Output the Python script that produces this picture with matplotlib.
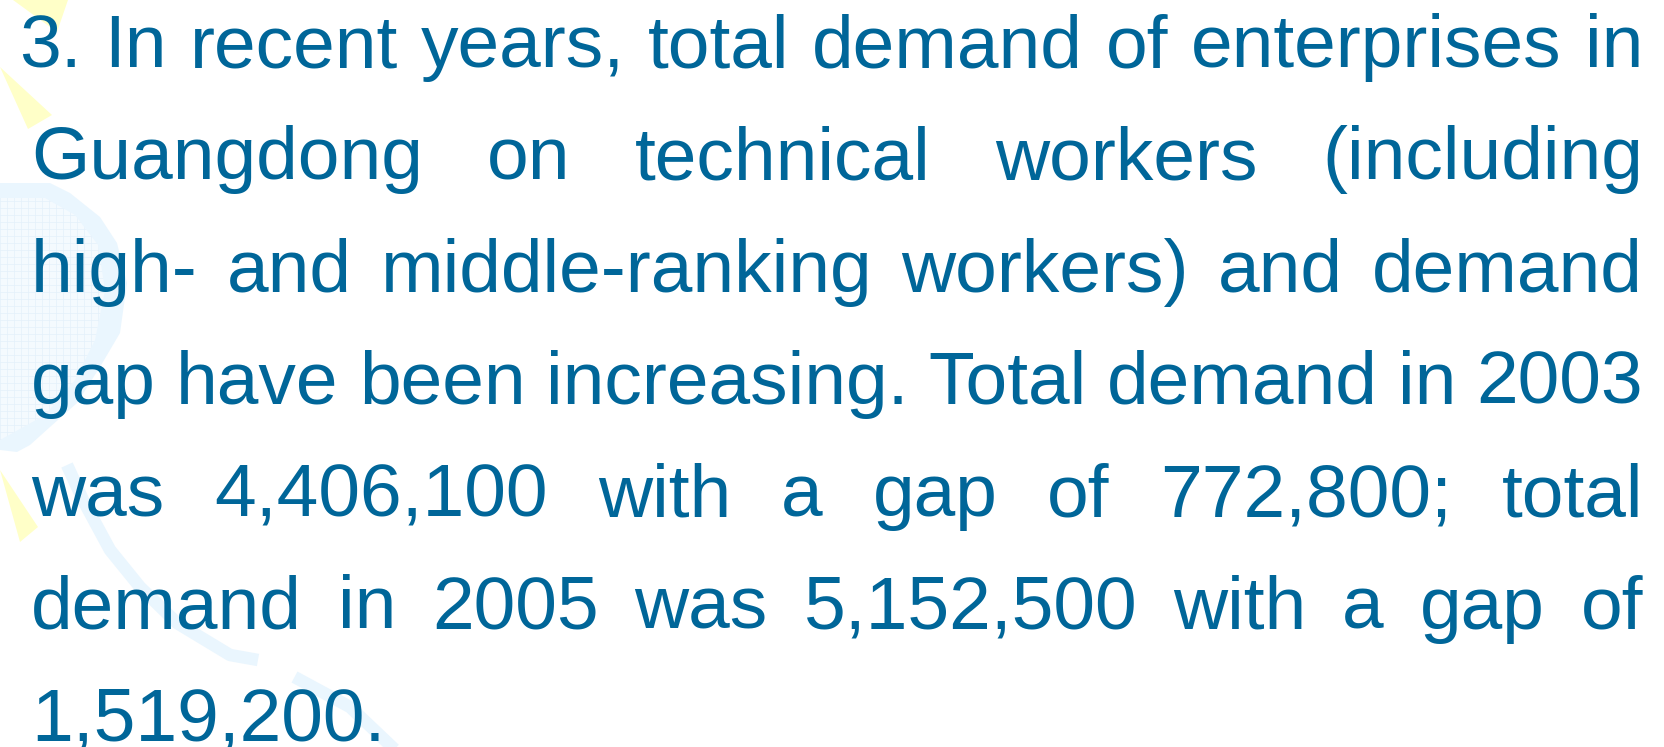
import matplotlib
matplotlib.use("Agg")
import matplotlib.pyplot as plt
from matplotlib.patches import Polygon

# Textzeilen der Folie (Blocksatz, letzte Zeile linksbündig)
lines = [
    "3. In recent years, total demand of enterprises in",
    "Guangdong on technical workers (including",
    "high- and middle-ranking workers) and demand",
    "gap have been increasing. Total demand in 2003",
    "was 4,406,100 with a gap of 772,800; total",
    "demand in 2005 was 5,152,500 with a gap of",
    "1,519,200.",
]

W, H = 1664, 747
text_color = "#006699"
fig = plt.figure(figsize=(W / 100, H / 100), dpi=100)
fig.patch.set_facecolor("white")
ax = fig.add_axes([0, 0, 1, 1])
ax.set_xlim(0, W)
ax.set_ylim(H, 0)
ax.axis("off")

# Hintergrund-Deko: hellblaue Form mit feinem Raster
blob = [(0, 183), (50, 183), (70, 193), (100, 217), (117, 243), (127, 283),
        (120, 333), (100, 367), (77, 403), (50, 427), (30, 445), (17, 452), (0, 450)]
blob_patch = Polygon(blob, closed=True, facecolor="#eaf6fe", edgecolor="none", zorder=1)
ax.add_patch(blob_patch)
inner = [(0, 198), (45, 198), (75, 215), (98, 245), (105, 290), (95, 340),
         (75, 380), (45, 415), (0, 440)]
inner_patch = Polygon(inner, closed=True, facecolor="#f4fafe", edgecolor="none", zorder=1.05)
ax.add_patch(inner_patch)
for gx in range(0, 130, 7):
    ln, = ax.plot([gx, gx], [180, 455], color="#e4f0fa", lw=0.5, zorder=1.1)
    ln.set_clip_path(inner_patch)
for gy in range(180, 455, 7):
    ln, = ax.plot([0, 130], [gy, gy], color="#e4f0fa", lw=0.5, zorder=1.1)
    ln.set_clip_path(inner_patch)

# hellblauer Bogen
arc_x = [67, 83, 110, 140, 177, 230, 258]
arc_y = [465, 500, 550, 587, 623, 655, 660]
ax.plot(arc_x, arc_y, color="#eaf6fe", lw=9, solid_capstyle="butt", zorder=1)
ax.plot([300, 350, 390], [680, 707, 745], color="#eaf6fe", lw=9, zorder=1)

# gelbe Dreiecke
yellow = "#ffffc8"
for tri in [[(13, 0), (68, 0), (57, 32)],
            [(0, 67), (52, 115), (28, 129)],
            [(0, 470), (38, 527), (20, 542)]]:
    ax.add_patch(Polygon(tri, closed=True, facecolor=yellow, edgecolor="none", zorder=1))

# Schrift: Zeile 1 mit normalen Leerzeichen, Rest im Blocksatz
left_first, left_rest, right = 19, 31, 1643
baseline0, spacing = 67, 112.3
fs = 54
renderer = fig.canvas.get_renderer()


def width_of(s, size):
    t = ax.text(0, 0, s, fontsize=size, family="Liberation Sans")
    w = t.get_window_extent(renderer).width
    t.remove()
    return w


natural = width_of(lines[0], fs)
if natural > right - left_first:
    fs = fs * (right - left_first) / natural

for i, line in enumerate(lines):
    words = line.split(" ")
    x0 = left_first if i == 0 else left_rest
    y = baseline0 + i * spacing
    widths = [width_of(w, fs) for w in words]
    if i < len(lines) - 1 and len(words) > 1:
        gap = (right - x0 - sum(widths)) / (len(words) - 1)
    else:
        gap = width_of("a b", fs) - width_of("ab", fs)
    x = x0
    for w, wd in zip(words, widths):
        ax.text(x, y, w, fontsize=fs, family="Liberation Sans", color=text_color,
                ha="left", va="baseline", zorder=3)
        x += wd + gap

fig.savefig("out.png", dpi=100, facecolor="white")
